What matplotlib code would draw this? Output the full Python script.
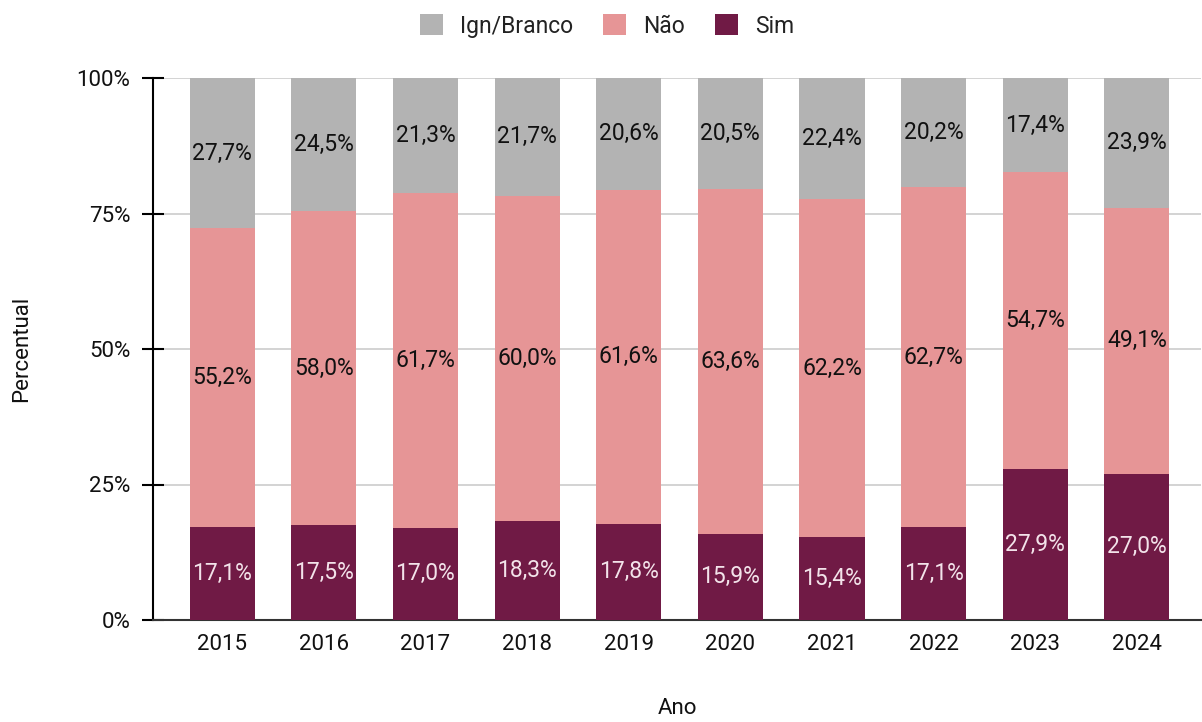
import matplotlib
matplotlib.use("Agg")
import matplotlib.pyplot as plt
from matplotlib.patches import Patch

plt.rcParams['font.family'] = ['Roboto', 'DejaVu Sans']

anos = ['2015', '2016', '2017', '2018', '2019', '2020', '2021', '2022', '2023', '2024']
sim = [17.1, 17.5, 17.0, 18.3, 17.8, 15.9, 15.4, 17.1, 27.9, 27.0]
nao = [55.2, 58.0, 61.7, 60.0, 61.6, 63.6, 62.2, 62.7, 54.7, 49.1]
ign = [27.7, 24.5, 21.3, 21.7, 20.6, 20.5, 22.4, 20.2, 17.4, 23.9]

c_sim = '#701a45'
c_nao = '#e69596'
c_ign = '#b3b3b3'

fig = plt.figure(figsize=(12.02, 7.22), dpi=100)
ax = fig.add_axes([153/1202, 1-620/722, 1048/1202, 542/722])

x = list(range(len(anos)))
w = 0.64
ax.bar(x, sim, w, color=c_sim, zorder=3)
ax.bar(x, nao, w, bottom=sim, color=c_nao, zorder=3)
bot3 = [s + n for s, n in zip(sim, nao)]
ax.bar(x, ign, w, bottom=bot3, color=c_ign, zorder=3)

def fmt(v):
    return f"{v:.1f}%".replace('.', ',')

fs = 16.5
for i in x:
    ax.text(i, sim[i] / 2, fmt(sim[i]), ha='center', va='center', color='#f3e3ea', fontsize=fs, zorder=4)
    ax.text(i, sim[i] + nao[i] / 2, fmt(nao[i]), ha='center', va='center', color='#111111', fontsize=fs, zorder=4)
    top = min(100, bot3[i] + ign[i])
    ax.text(i, (bot3[i] + top) / 2, fmt(ign[i]), ha='center', va='center', color='#111111', fontsize=fs, zorder=4)

ax.set_xlim(-0.68, 9.63)
ax.set_ylim(0, 100)
ax.set_yticks([0, 25, 50, 75, 100])
ax.set_yticklabels(['0%', '25%', '50%', '75%', '100%'])
ax.set_xticks(x)
ax.set_xticklabels(anos)
ax.yaxis.grid(True, color='#cccccc', linewidth=1.2, zorder=0)
ax.set_axisbelow(True)
for s in ['top', 'right']:
    ax.spines[s].set_visible(False)
ax.spines['left'].set_color('#000000')
ax.spines['left'].set_linewidth(1.5)
ax.spines['bottom'].set_color('#333333')
ax.spines['bottom'].set_linewidth(1.5)
ax.tick_params(axis='y', direction='inout', length=16.5, width=1.5, color='#000000', labelsize=16, pad=8, labelcolor='#111111')
ax.tick_params(axis='x', length=0, labelsize=16, pad=10, labelcolor='#111111')

ax.set_ylabel('Percentual', fontsize=16, color='#111111')
ax.set_xlabel('Ano', fontsize=16, color='#111111')
ax.yaxis.set_label_coords((22 - 153) / 1048, 0.5)
ax.xaxis.set_label_coords(0.5, (620 - 708) / 542)
ax.xaxis.label.set_va('center')
ax.yaxis.label.set_va('center')

handles = [Patch(facecolor=c_ign, label='Ign/Branco'),
           Patch(facecolor=c_nao, label='Não'),
           Patch(facecolor=c_sim, label='Sim')]
fig.legend(handles=handles, loc='center', bbox_to_anchor=(0.505, 1 - 26/722), ncol=3, frameon=False,
           fontsize=16.5, handlelength=1.0, handleheight=1.0, columnspacing=1.3, handletextpad=0.75,
           labelcolor='#222222')

fig.savefig('out.png', dpi=100)
